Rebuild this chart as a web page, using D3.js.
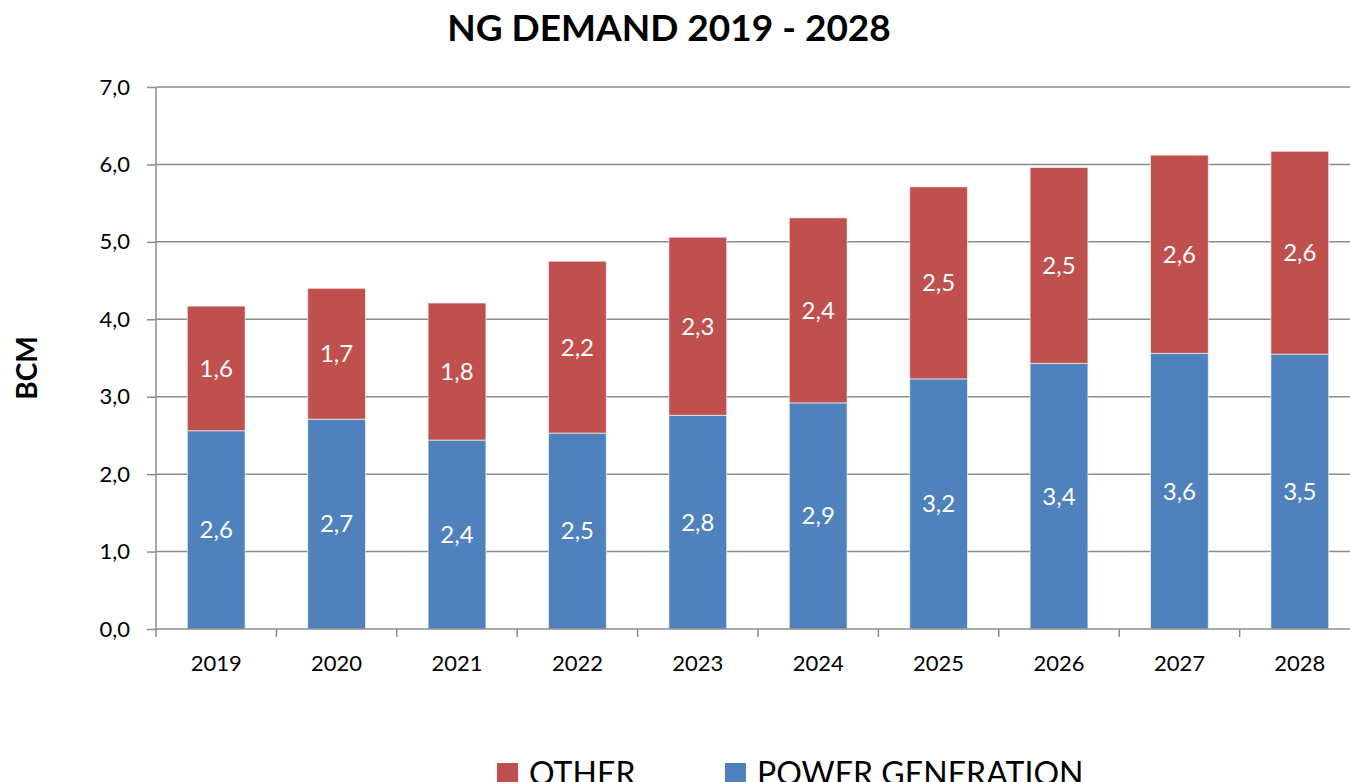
<!DOCTYPE html>
<html lang="en">
<head>
    <meta charset="UTF-8">
    <title>NG Demand 2019 - 2028</title>
    <script src="https://cdnjs.cloudflare.com/ajax/libs/d3/7.8.5/d3.min.js"></script>
    <style>
        body { margin: 0; background: white; }
        text { font-family: Lato, "Open Sans", sans-serif; }
    </style>
</head>
<body>
    <script>
    var years = ["2019","2020","2021","2022","2023","2024","2025","2026","2027","2028"];
    var power = [2.56, 2.71, 2.44, 2.53, 2.76, 2.92, 3.23, 3.43, 3.56, 3.55];
    var other = [1.61, 1.69, 1.77, 2.22, 2.30, 2.39, 2.48, 2.53, 2.56, 2.62];
    var yTicks = [0, 1, 2, 3, 4, 5, 6, 7];

    var width = 1350, height = 782;
    var plotLeft = 156, plotTop = 87, plotBottom = 629, band = 120.4;

    var svg = d3.select("body").append("svg")
                .attr("width", width)
                .attr("height", height);

    var x = d3.scaleBand()
              .domain(years)
              .range([plotLeft, plotLeft + band * years.length])
              .paddingInner(0.52)
              .paddingOuter(0.26);

    var y = d3.scaleLinear().domain([0, 7]).range([plotBottom, plotTop]);

    var fmt = function(v){ return d3.format(".1f")(v).replace(".", ","); };

    // gridlines
    svg.append("g").selectAll("line")
       .data(yTicks.slice(1))
       .enter().append("line")
       .attr("x1", plotLeft).attr("x2", width)
       .attr("y1", function(d){ return y(d); })
       .attr("y2", function(d){ return y(d); })
       .attr("stroke", "#8c8c8c").attr("stroke-width", 1.5);

    // y axis
    var yAxis = svg.append("g")
                   .attr("transform", "translate(" + plotLeft + ",0)")
                   .call(d3.axisLeft(y).tickValues(yTicks).tickFormat(fmt).tickSize(9).tickPadding(17));
    yAxis.select(".domain").remove();
    yAxis.selectAll("line").attr("stroke", "#8c8c8c").attr("stroke-width", 1.5);
    yAxis.selectAll("text").attr("font-size", "22px").attr("fill", "#000")
         .style("font-family", "Lato, sans-serif");
    svg.append("line")
       .attr("x1", plotLeft).attr("x2", plotLeft).attr("y1", plotTop).attr("y2", plotBottom)
       .attr("stroke", "#8c8c8c").attr("stroke-width", 1.5);

    // bars
    var rows = years.map(function(yr, i){ return { year: yr, power: power[i], other: other[i] }; });
    var stack = d3.stack().keys(["power", "other"])(rows);
    var colors = { power: "#4f81bd", other: "#c0504d" };

    var layers = svg.append("g").selectAll("g")
                    .data(stack).enter().append("g")
                    .attr("fill", function(d){ return colors[d.key]; });

    layers.selectAll("rect")
          .data(function(d){ return d; })
          .enter().append("rect")
          .attr("x", function(d){ return x(d.data.year); })
          .attr("width", x.bandwidth())
          .attr("y", function(d){ return y(d[1]); })
          .attr("height", function(d){ return y(d[0]) - y(d[1]); })
          .attr("stroke", "rgba(255,255,255,0.6)")
          .attr("stroke-width", 1);

    layers.selectAll("text")
          .data(function(d){ return d; })
          .enter().append("text")
          .attr("x", function(d){ return x(d.data.year) + x.bandwidth() / 2; })
          .attr("y", function(d){ return (y(d[0]) + y(d[1])) / 2; })
          .attr("dy", "0.35em")
          .attr("text-anchor", "middle")
          .attr("fill", "white")
          .attr("font-size", "24px")
          .text(function(d){ return fmt(d[1] - d[0]); });

    // x axis
    var xAxis = svg.append("g")
                   .attr("transform", "translate(0," + plotBottom + ")");
    xAxis.append("line")
         .attr("x1", plotLeft).attr("x2", width).attr("y1", 0).attr("y2", 0)
         .attr("stroke", "#8c8c8c").attr("stroke-width", 1.5);
    xAxis.selectAll(".tk")
         .data(d3.range(years.length + 1))
         .enter().append("line")
         .attr("x1", function(i){ return plotLeft + i * band; })
         .attr("x2", function(i){ return plotLeft + i * band; })
         .attr("y1", 0).attr("y2", 8)
         .attr("stroke", "#8c8c8c").attr("stroke-width", 1.5);
    xAxis.selectAll(".lbl")
         .data(years).enter().append("text")
         .attr("x", function(d){ return x(d) + x.bandwidth() / 2; })
         .attr("y", 42)
         .attr("text-anchor", "middle")
         .attr("font-size", "22px")
         .text(function(d){ return d; });

    // title
    svg.append("text")
       .attr("x", 669).attr("y", 41)
       .attr("text-anchor", "middle")
       .attr("font-size", "37px").attr("font-weight", "bold")
       .text("NG DEMAND 2019 - 2028");

    // y axis title
    svg.append("text")
       .attr("transform", "translate(37,368) rotate(-90)")
       .attr("text-anchor", "middle")
       .attr("font-size", "28px").attr("font-weight", "bold")
       .text("BCM");

    // legend
    var legend = [
        { name: "OTHER", key: "other", x: 497 },
        { name: "POWER GENERATION", key: "power", x: 725 }
    ];
    var lg = svg.append("g").selectAll("g").data(legend).enter().append("g")
                .attr("transform", function(d){ return "translate(" + d.x + ",763)"; });
    lg.append("rect").attr("width", 21).attr("height", 21)
      .attr("fill", function(d){ return colors[d.key]; });
    lg.append("text").attr("x", 32).attr("y", 22)
      .attr("font-size", "32px")
      .text(function(d){ return d.name; });
    </script>
</body>
</html>
